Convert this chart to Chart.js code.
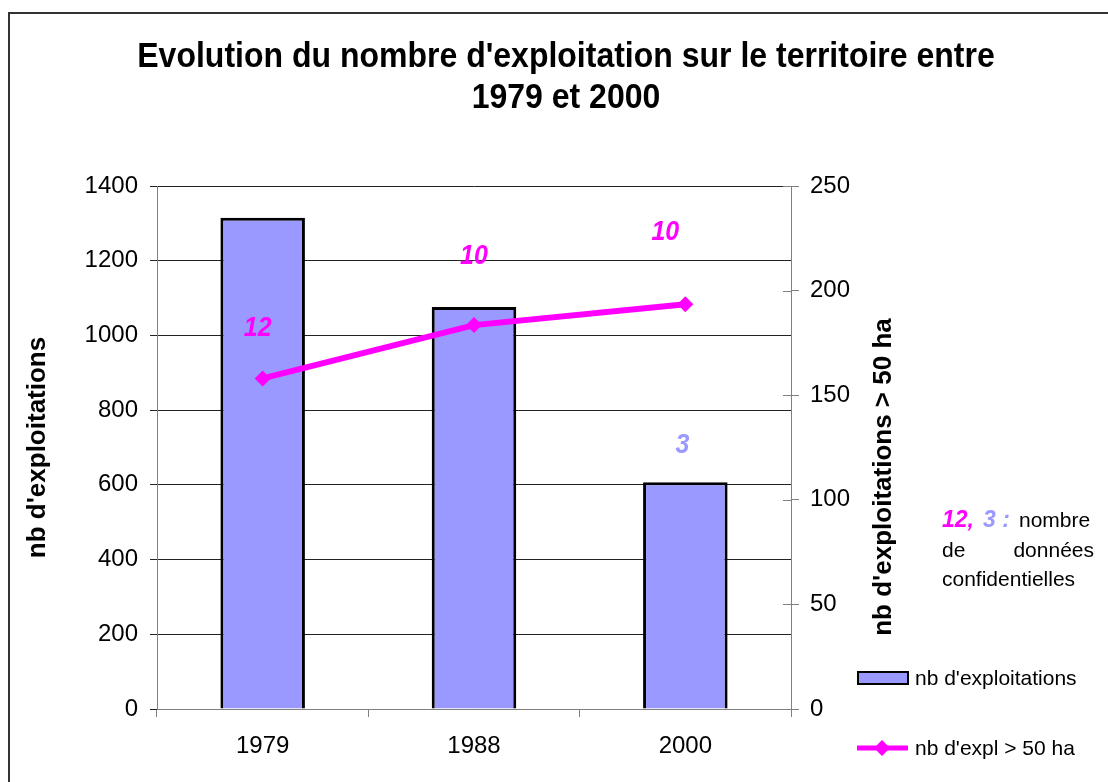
<!DOCTYPE html>
<html>
<head>
<meta charset="utf-8">
<script src="https://cdn.jsdelivr.net/npm/chart.js@4/dist/chart.umd.min.js"></script>
<style>
  html, body { margin: 0; padding: 0; background: #fff; }
  #wrap { width: 1108px; height: 782px; }
</style>
</head>
<body>
<div id="wrap"><canvas id="myChart" width="1108" height="782"></canvas></div>
<script>
// Données
const annees = ['1979', '1988', '2000'];
const nbExploitations = [1315, 1076, 607];
const nbExpl50ha = [158, 183.5, 193.5];
// nombre de données confidentielles
const confLigne = ['12', '10', '10'];
const confBarres = ['', '', '3'];

const titreLignes = ["Evolution du nombre d'exploitation sur le territoire entre", '1979 et 2000'];
const FONT = '"Liberation Sans", Arial, sans-serif';
const MAGENTA = '#FF00FF';
const VIOLET = '#9999FF';

// texte légèrement étiré en hauteur, comme dans l'original
function texteEtire(ctx, txt, x, y, sy) {
    ctx.save();
    ctx.translate(x, y);
    ctx.scale(1, sy);
    ctx.fillText(txt, 0, 0);
    ctx.restore();
}

// Dessin des textes autour du graphique (titre, axes, légende, note)
const decorPlugin = {
    id: 'decor',
    afterDraw(chart) {
        const ctx = chart.ctx;
        const area = chart.chartArea;
        const x = chart.scales.x;
        const y = chart.scales.y;
        const y1 = chart.scales.y1;
        ctx.save();

        // cadre
        ctx.strokeStyle = '#333';
        ctx.lineWidth = 2;
        ctx.beginPath();
        ctx.moveTo(9, 800);
        ctx.lineTo(9, 13);
        ctx.lineTo(1120, 13);
        ctx.stroke();

        // petits traits intérieurs de l'axe de droite
        ctx.strokeStyle = '#808080';
        ctx.lineWidth = 1;
        y1.ticks.forEach(t => {
            const py = Math.round(y1.getPixelForValue(t.value)) + 0.5;
            ctx.beginPath();
            ctx.moveTo(area.right - 8, py);
            ctx.lineTo(area.right, py);
            ctx.stroke();
        });

        // titre
        ctx.fillStyle = '#000';
        ctx.textAlign = 'center';
        ctx.textBaseline = 'middle';
        ctx.font = 'bold 32px ' + FONT;
        texteEtire(ctx, titreLignes[0], 566, 57, 1.08);
        texteEtire(ctx, titreLignes[1], 566, 98, 1.08);

        // titres des axes
        ctx.font = 'bold 26px ' + FONT;
        ctx.save();
        ctx.translate(38, (area.top + area.bottom) / 2);
        ctx.rotate(-Math.PI / 2);
        ctx.fillText("nb d'exploitations", 0, 0);
        ctx.restore();
        ctx.save();
        ctx.translate(884, 477);
        ctx.rotate(-Math.PI / 2);
        ctx.fillText("nb d'exploitations > 50 ha", 0, 0);
        ctx.restore();

        // étiquettes des données confidentielles
        const decalLigne = [[-5, -50], [0, -69], [-20, -72]];
        ctx.font = 'italic bold 25px ' + FONT;
        ctx.fillStyle = MAGENTA;
        confLigne.forEach((txt, i) => {
            if (!txt) return;
            const px = x.getPixelForValue(i) + decalLigne[i][0];
            const py = y1.getPixelForValue(nbExpl50ha[i]) + decalLigne[i][1];
            texteEtire(ctx, txt, px, py, 1.1);
        });
        ctx.fillStyle = VIOLET;
        confBarres.forEach((txt, i) => {
            if (!txt) return;
            const px = x.getPixelForValue(i) - 3;
            const py = y.getPixelForValue(nbExploitations[i]) - 37;
            texteEtire(ctx, txt, px, py, 1.1);
        });

        // note
        ctx.textAlign = 'left';
        ctx.font = 'italic bold 23px ' + FONT;
        ctx.fillStyle = MAGENTA;
        ctx.fillText('12,', 942, 521);
        ctx.fillStyle = VIOLET;
        ctx.fillText('3 :', 983, 521);
        ctx.font = '21px ' + FONT;
        ctx.fillStyle = '#000';
        ctx.fillText('nombre', 1019, 521);
        ctx.fillText('de', 942, 551);
        ctx.textAlign = 'right';
        ctx.fillText('données', 1094, 551);
        ctx.textAlign = 'left';
        ctx.fillText('confidentielles', 942, 580);

        // légende
        ctx.fillStyle = VIOLET;
        ctx.fillRect(858, 672, 50, 12);
        ctx.strokeStyle = '#000';
        ctx.lineWidth = 2;
        ctx.strokeRect(858, 672, 50, 12);
        ctx.strokeStyle = MAGENTA;
        ctx.lineWidth = 5;
        ctx.beginPath();
        ctx.moveTo(857, 748);
        ctx.lineTo(908, 748);
        ctx.stroke();
        ctx.fillStyle = MAGENTA;
        ctx.beginPath();
        ctx.moveTo(882, 740);
        ctx.lineTo(890, 748);
        ctx.lineTo(882, 756);
        ctx.lineTo(874, 748);
        ctx.closePath();
        ctx.fill();
        ctx.fillStyle = '#000';
        ctx.font = '21px ' + FONT;
        ctx.fillText("nb d'exploitations", 915, 679);
        ctx.fillText("nb d'expl > 50 ha", 915, 749);

        ctx.restore();
    }
};

const sansSeparateur = v => String(v);

const ctx = document.getElementById('myChart').getContext('2d');
new Chart(ctx, {
    data: {
        labels: annees,
        datasets: [
            {
                type: 'line',
                label: "nb d'expl > 50 ha",
                data: nbExpl50ha,
                yAxisID: 'y1',
                borderColor: MAGENTA,
                backgroundColor: MAGENTA,
                borderWidth: 6,
                pointStyle: 'rectRot',
                pointRadius: 8,
                pointBorderWidth: 0,
                order: 0
            },
            {
                type: 'bar',
                label: "nb d'exploitations",
                data: nbExploitations,
                yAxisID: 'y',
                backgroundColor: VIOLET,
                borderColor: '#000',
                borderWidth: 3,
                categoryPercentage: 1,
                barPercentage: 0.4,
                order: 1
            }
        ]
    },
    options: {
        responsive: false,
        animation: false,
        layout: { padding: { top: 186, left: 0, right: 0, bottom: 0 } },
        plugins: {
            legend: { display: false },
            title: { display: false },
            tooltip: { enabled: false }
        },
        scales: {
            x: {
                afterFit: s => { s.height = 73; },
                grid: { offset: true, drawOnChartArea: false, tickLength: 8, color: '#808080' },
                border: { color: '#808080' },
                ticks: { color: '#000', font: { family: FONT, size: 24 }, padding: 15 }
            },
            y: {
                position: 'left',
                min: 0, max: 1400,
                afterFit: s => { s.width = 157; },
                grid: { color: '#222', tickLength: 7 },
                border: { color: '#808080' },
                ticks: { stepSize: 200, color: '#000', font: { family: FONT, size: 24 }, padding: 12, callback: sansSeparateur }
            },
            y1: {
                position: 'right',
                min: 0, max: 250,
                afterFit: s => { s.width = 317; },
                grid: { drawOnChartArea: false, tickLength: 8, color: '#808080' },
                border: { color: '#808080' },
                ticks: { stepSize: 50, color: '#000', font: { family: FONT, size: 24 }, padding: 11, callback: sansSeparateur }
            }
        }
    },
    plugins: [decorPlugin]
});
</script>
</body>
</html>
